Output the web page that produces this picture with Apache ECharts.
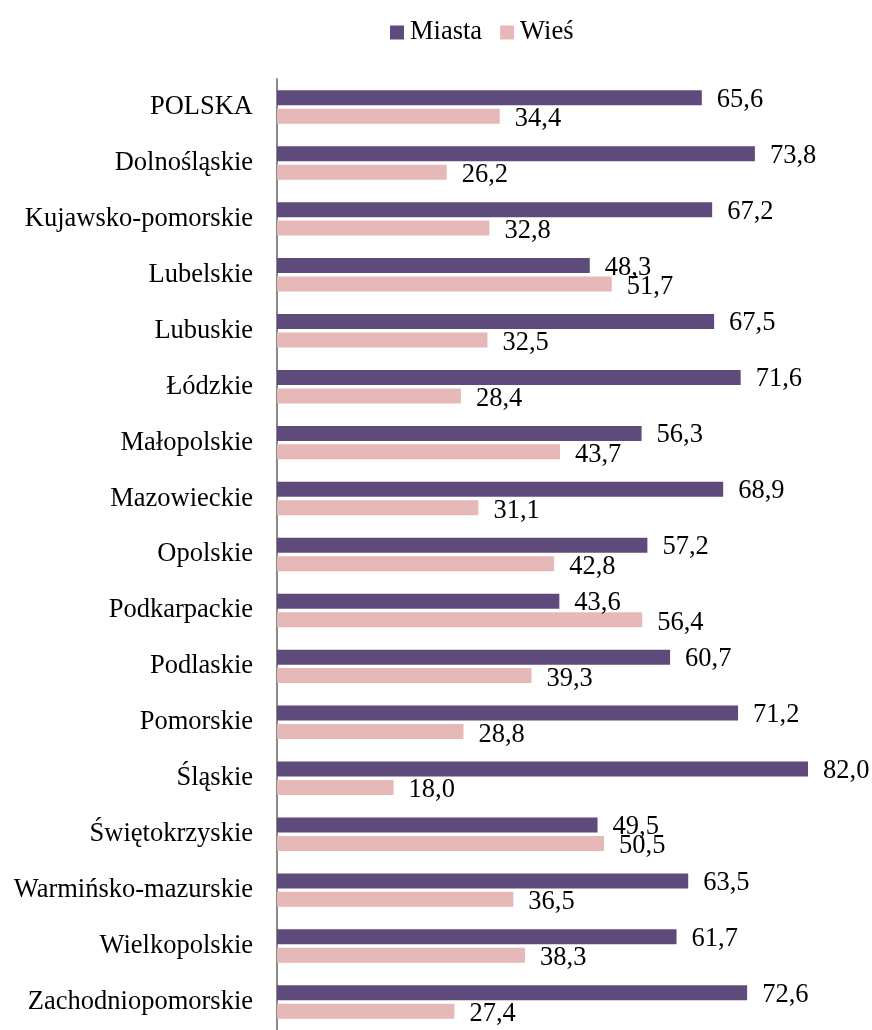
<!DOCTYPE html>
<html>
<head>
<meta charset="utf-8">
<script src="https://cdn.jsdelivr.net/npm/echarts@6/dist/echarts.min.js"></script>
<style>
html,body{margin:0;padding:0;background:#fff;}
#chart{width:872px;height:1030px;}
</style>
</head>
<body>
<div id="chart"></div>
<script>
const categories = ['POLSKA','Dolnośląskie','Kujawsko-pomorskie','Lubelskie','Lubuskie','Łódzkie','Małopolskie','Mazowieckie','Opolskie','Podkarpackie','Podlaskie','Pomorskie','Śląskie','Świętokrzyskie','Warmińsko-mazurskie','Wielkopolskie','Zachodniopomorskie'];
const miasta = [65.6,73.8,67.2,48.3,67.5,71.6,56.3,68.9,57.2,43.6,60.7,71.2,82.0,49.5,63.5,61.7,72.6];
const wies = [34.4,26.2,32.8,51.7,32.5,28.4,43.7,31.1,42.8,56.4,39.3,28.8,18.0,50.5,36.5,38.3,27.4];
const seriesNames = ['Miasta','Wieś'];

const FONT = "'Liberation Serif','Times New Roman',serif";
const FS = 26.5;
const fmt = p => p.value.toFixed(1).replace('.', ',');
const chart = echarts.init(document.getElementById('chart'), null, {renderer:'canvas'});
chart.setOption({
  animation:false,
  textStyle:{fontFamily:FONT},
  legend:{
    left:385, top:14,
    itemWidth:14, itemHeight:14, itemGap:18,
    icon:'rect',
    textStyle:{fontFamily:FONT, fontSize:FS, color:'#000', padding:[0,0,0,1]},
    data:seriesNames
  },
  grid:{left:277, top:79, width:531, height:959, containLabel:false},
  xAxis:{type:'value', min:0, max:82, show:false},
  yAxis:{
    type:'category', data:categories, inverse:true,
    axisLine:{show:true, lineStyle:{color:'#898989', width:2}},
    axisTick:{show:false},
    axisLabel:{fontFamily:FONT, fontSize:FS, color:'#000', margin:24, padding:[3,0,0,0]},
    splitLine:{show:false}
  },
  series:[
    {name:seriesNames[0], type:'bar', data:miasta, barWidth:15, barGap:'23%',
     itemStyle:{color:'#5F4B7B'},
     label:{show:true, position:'right', distance:15, formatter:fmt, fontFamily:FONT, fontSize:FS, color:'#000', offset:[0,2]}},
    {name:seriesNames[1], type:'bar', data:wies, barWidth:15, barGap:'23%',
     itemStyle:{color:'#E6B8B7'},
     label:{show:true, position:'right', distance:15, formatter:fmt, fontFamily:FONT, fontSize:FS, color:'#000', offset:[0,3]}}
  ]
});
</script>
</body>
</html>
